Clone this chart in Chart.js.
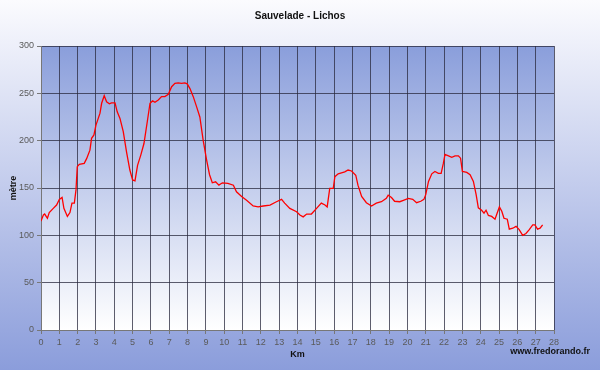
<!DOCTYPE html>
<html>
<head>
<meta charset="utf-8">
<script src="https://cdn.jsdelivr.net/npm/chart.js@4/dist/chart.umd.min.js"></script>
<style>
  html, body { margin: 0; padding: 0; background: #fff; }
  #wrap { width: 600px; height: 370px; }
</style>
</head>
<body>
<div id="wrap"><canvas id="profile" width="600" height="370"></canvas></div>
<script>
// Elevation profile (km along the track, metres)
const kmValues = [
  0, 0.13, 0.2, 0.35, 0.45, 0.67, 0.85, 1.0, 1.15, 1.25,
  1.44, 1.58, 1.69, 1.82, 1.91, 1.98, 2.09, 2.36, 2.49, 2.67,
  2.76, 2.89, 3.0, 3.22, 3.31, 3.45, 3.58, 3.73, 3.85, 4.04,
  4.16, 4.31, 4.49, 4.67, 4.85, 5.0, 5.13, 5.27, 5.45, 5.62,
  5.8, 5.95, 6.09, 6.22, 6.4, 6.58, 6.76, 6.95, 7.13, 7.31,
  7.49, 7.67, 7.85, 7.98, 8.13, 8.31, 8.49, 8.67, 8.85, 9.04,
  9.2, 9.35, 9.53, 9.71, 9.9, 10.2, 10.5, 10.67, 10.95, 11.22,
  11.58, 11.85, 12.13, 12.5, 12.85, 13.13, 13.3, 13.58, 13.95, 14.13,
  14.31, 14.5, 14.76, 15.04, 15.3, 15.5, 15.62, 15.76, 15.95, 16.04,
  16.22, 16.4, 16.58, 16.76, 16.95, 17.18, 17.3, 17.5, 17.76, 18.04,
  18.3, 18.58, 18.85, 18.95, 19.13, 19.3, 19.58, 19.78, 20.05, 20.29,
  20.5, 20.73, 20.9, 21.0, 21.15, 21.33, 21.5, 21.69, 21.84, 21.96,
  22.05, 22.24, 22.42, 22.6, 22.78, 22.9, 23.0, 23.24, 23.42, 23.6,
  23.75, 23.87, 24.05, 24.18, 24.29, 24.42, 24.6, 24.78, 24.9, 25.02,
  25.15, 25.27, 25.45, 25.56, 25.75, 25.93, 26.1, 26.29, 26.47, 26.65,
  26.84, 26.96, 27.1, 27.24, 27.38
];
const elevValues = [
  115, 121.5, 122.5, 118, 124, 128.5, 132, 138, 140, 128.5,
  120, 124, 134, 134, 148, 172.5, 175, 176, 181, 190,
  202.5, 206, 216.5, 229, 239.5, 247.5, 241, 239, 240, 240,
  230.5, 223.5, 209.5, 188, 169, 158.5, 157.5, 174, 185, 197,
  220, 239.5, 242, 240.5, 243, 246.5, 246.5, 249, 257, 260.5,
  261, 260.5, 261, 260, 255, 246.5, 236, 225, 200.5, 179.5,
  164, 155.5, 156.5, 153, 155.5, 155, 153, 146, 141, 137,
  131, 130, 131, 132, 135.5, 138, 134, 128.5, 125, 121.5,
  119.5, 122.5, 122.5, 128.5, 134, 132, 130, 149.5, 149.5, 162,
  165, 166, 167, 169, 168, 163.5, 153, 141, 134.5, 131,
  134, 135.5, 139, 142.5, 140, 136, 135.5, 137, 139, 138,
  134.5, 136, 138, 143, 157, 165, 167.5, 165.5, 165.5, 176,
  185.5, 184, 182.5, 184, 184, 181.5, 167.5, 166.5, 164, 157,
  143, 129, 126.5, 123.5, 126.5, 121, 120, 117, 123.5, 130,
  125.5, 118, 117, 106.5, 107.5, 109.5, 106, 100, 102, 106,
  111, 111, 106.5, 107.5, 111
];

const chartTitle = 'Sauvelade - Lichos';
const xAxisTitle = 'Km';
const yAxisTitle = 'mètre';
const siteCredit = 'www.fredorando.fr';

const FONT = '"Liberation Sans", Arial, sans-serif';
const TICK_COLOR = '#5a5a5a';
const GRID_COLOR = 'rgba(40,40,60,0.75)';

// page and plot backgrounds (two gradients), plus the site credit
const backdrop = {
  id: 'backdrop',
  beforeDraw(chart) {
    const { ctx, width, height, chartArea: a } = chart;
    ctx.save();
    const outer = ctx.createLinearGradient(0, 0, 0, height);
    outer.addColorStop(0, '#fbfbfe');
    outer.addColorStop(1, '#8b9ddb');
    ctx.fillStyle = outer;
    ctx.fillRect(0, 0, width, height);
    const inner = ctx.createLinearGradient(0, a.top, 0, a.bottom);
    inner.addColorStop(0, '#8a9edb');
    inner.addColorStop(1, '#ffffff');
    ctx.fillStyle = inner;
    ctx.fillRect(a.left, a.top, a.right - a.left, a.bottom - a.top);
    ctx.restore();
  },
  afterDraw(chart) {
    const { ctx, width } = chart;
    ctx.save();
    ctx.font = 'bold 9px ' + FONT;
    ctx.fillStyle = '#111';
    ctx.textAlign = 'right';
    ctx.textBaseline = 'middle';
    ctx.fillText(siteCredit, width - 10, 352);
    ctx.restore();
  }
};

new Chart(document.getElementById('profile'), {
  type: 'scatter',
  data: {
    datasets: [{
      data: kmValues.map((k, i) => ({ x: k, y: elevValues[i] })),
      showLine: true,
      borderColor: '#ff0000',
      borderWidth: 1.3,
      pointRadius: 0,
      tension: 0,
    }]
  },
  options: {
    responsive: false,
    animation: false,
    layout: { padding: 0 },
    plugins: {
      legend: { display: false },
      tooltip: { enabled: false },
      title: {
        display: true,
        text: chartTitle,
        color: '#111',
        font: { family: FONT, size: 10, weight: 'bold' },
        padding: { top: 10, bottom: 24 },
      },
    },
    scales: {
      x: {
        type: 'linear',
        min: 0,
        max: 28,
        afterFit(scale) { scale.height = 40; },
        ticks: {
          stepSize: 1,
          color: TICK_COLOR,
          padding: 3,
          maxRotation: 0,
          autoSkip: false,
          font: { family: FONT, size: 9 },
        },
        grid: { color: GRID_COLOR, tickLength: 4, tickColor: '#777' },
        border: { color: '#777' },
        title: {
          display: true,
          text: xAxisTitle,
          color: '#111',
          font: { family: FONT, size: 9, weight: 'bold' },
          padding: { top: 0, bottom: 10 },
        },
      },
      y: {
        min: 0,
        max: 300,
        afterFit(scale) { scale.width = 41; },
        ticks: {
          stepSize: 50,
          color: TICK_COLOR,
          padding: 3,
          font: { family: FONT, size: 9 },
        },
        grid: { color: GRID_COLOR, tickLength: 4, tickColor: '#777' },
        border: { color: '#777' },
        title: {
          display: true,
          text: yAxisTitle,
          color: '#111',
          font: { family: FONT, size: 9, weight: 'bold' },
          padding: { top: 8, bottom: 0 },
        },
      },
      // empty right-hand axis: keeps the margin so the title stays centred on the page
      yRight: {
        position: 'right',
        min: 0,
        max: 300,
        afterFit(scale) { scale.width = 46; },
        ticks: { display: false },
        grid: { display: false },
        border: { display: false },
      },
    },
  },
  plugins: [backdrop],
});
</script>
</body>
</html>
